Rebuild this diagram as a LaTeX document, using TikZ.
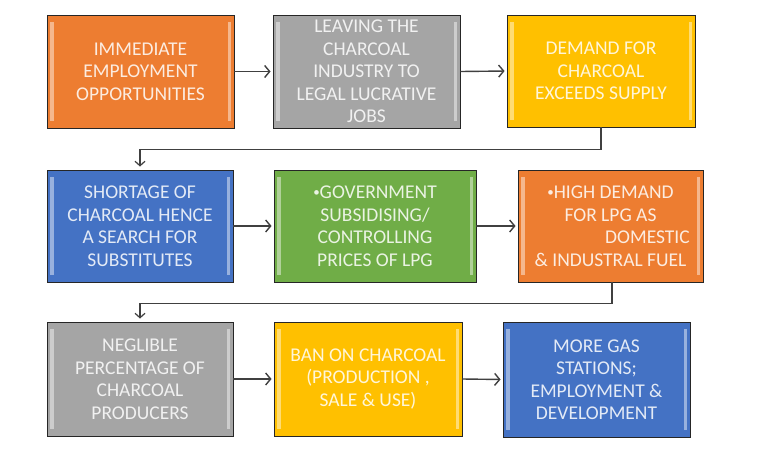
\documentclass[tikz,border=0pt]{standalone}
\usepackage{fontspec}
\setmainfont{Carlito}
\usetikzlibrary{arrows.meta,positioning}
\definecolor{corange}{HTML}{ED7D31}
\definecolor{cgray}{HTML}{A5A5A5}
\definecolor{cyellow}{HTML}{FFC000}
\definecolor{cblue}{HTML}{4472C4}
\definecolor{cgreen}{HTML}{70AD47}
\definecolor{arrowgray}{HTML}{404040}
\newcommand{\smallbul}{\raisebox{2.5pt}{\fontsize{13}{13}\selectfont•}}
\tikzset{
  x=1pt,y=-1pt,
  box/.style={draw=black!85, line width=0.9pt, fill=#1, inner sep=0pt,
    text=white!85!#1, align=center,
    font=\fontsize{19.5}{22.5}\selectfont,
    path picture={
      \fill[white,opacity=0.45] ([xshift=3pt,yshift=7pt]path picture bounding box.south west) rectangle ([xshift=6.5pt,yshift=-7pt]path picture bounding box.north west);
      \fill[white,opacity=0.45] ([xshift=-6.5pt,yshift=7pt]path picture bounding box.south east) rectangle ([xshift=-3pt,yshift=-7pt]path picture bounding box.north east);
    }},
  flow/.style={draw=arrowgray, line width=1.4pt, -{Straight Barb[length=5pt,width=12pt]}, shorten >=2pt},
  elbow/.style={draw=arrowgray, line width=1.2pt, -{Straight Barb[length=4.5pt,width=10pt]}, shorten >=3pt}
}
\begin{document}
\begin{tikzpicture}
\useasboundingbox (0,0) rectangle (770,474);
\fill[white] (0,0) rectangle (770,474);
% row 1
\node[box=corange, minimum width=187pt, minimum height=113pt] (b1) at (140.5,71.5) {IMMEDIATE\\EMPLOYMENT\\OPPORTUNITIES};
\node[box=cgray, minimum width=187pt, minimum height=113pt] (b2) at (366.5,71.5) {LEAVING THE\\CHARCOAL\\INDUSTRY TO\\LEGAL LUCRATIVE\\JOBS};
\node[box=cyellow, minimum width=188pt, minimum height=112pt] (b3) at (601,71) {DEMAND FOR\\CHARCOAL\\EXCEEDS SUPPLY};
% row 2
\node[box=cblue, minimum width=186pt, minimum height=112pt] (b4) at (140,226) {SHORTAGE OF\\CHARCOAL HENCE\\A SEARCH FOR\\SUBSTITUTES};
\node[box=cgreen, minimum width=202pt, minimum height=112pt] (b5) at (375,226) {\smallbul GOVERNMENT\\SUBSIDISING/\\CONTROLLING\\PRICES OF LPG};
\node[box=corange, minimum width=185pt, minimum height=112pt] (b6) at (610.5,226) {\smallbul HIGH DEMAND\\FOR LPG AS\\\hspace*{74pt}DOMESTIC\\\& INDUSTRAL FUEL};
% row 3
\node[box=cgray, minimum width=186pt, minimum height=114pt] (b7) at (140,379) {NEGLIBLE\\PERCENTAGE OF\\CHARCOAL\\PRODUCERS};
\node[box=cyellow, minimum width=188pt, minimum height=114pt] (b8) at (368,379) {BAN ON CHARCOAL\\(PRODUCTION ,\\SALE \& USE)};
\node[box=cblue, minimum width=187pt, minimum height=115pt] (b9) at (596.5,379.5) {MORE GAS\\STATIONS;\\EMPLOYMENT \&\\DEVELOPMENT};
% connectors
\draw[flow] (b1.east) -- (b2.west);
\draw[flow] (b2.east) -- (b3.west);
\draw[flow] (b4.east) -- (b5.west);
\draw[flow] (b5.east) -- (b6.west);
\draw[flow] (b7.east) -- (b8.west);
\draw[flow] (b8.east) -- (b9.west);
\draw[elbow] (b3.south) -- ++(0,22) -| (b4.north);
\draw[elbow] ([xshift=1.5pt]b6.south) -- ++(0,21) -| (b7.north);
\end{tikzpicture}
\end{document}
